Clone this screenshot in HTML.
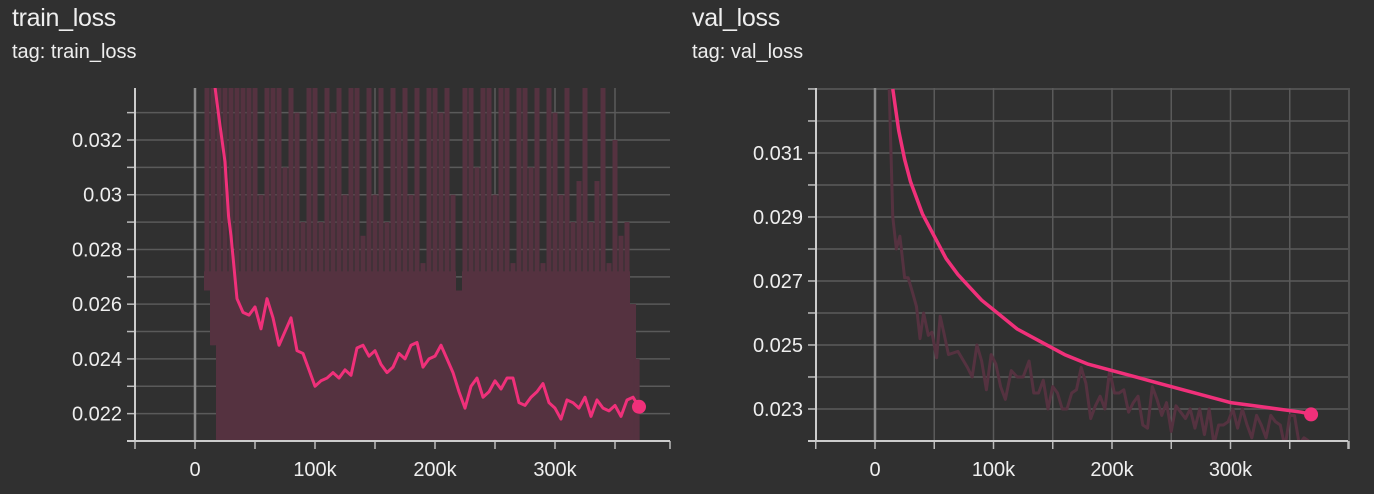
<!DOCTYPE html>
<html><head><meta charset="utf-8"><style>
html,body{margin:0;padding:0;background:#303030;width:1374px;height:494px;overflow:hidden;font-family:"Liberation Sans",sans-serif;color:#eee}
.t{position:absolute;font-size:25px;letter-spacing:-0.3px}
.g{position:absolute;font-size:20px}
svg{position:absolute;left:0;top:0}
</style></head><body>
<div class="t" style="left:12px;top:4px">train_loss</div>
<div class="g" style="left:12px;top:41px">tag: train_loss</div>
<div class="t" style="left:692px;top:4px">val_loss</div>
<div class="g" style="left:692px;top:41px">tag: val_loss</div>
<svg id="s" width="1374" height="494"></svg>
<script>
const trainX=[15,20,25,28,30,35,40,45,50,55,60,65,70,75,80,85,90,95,100,105,110,115,120,125,130,135,140,145,150,155,160,165,170,175,180,185,190,195,200,205,210,215,220,225,230,235,240,245,250,255,260,265,270,275,280,285,290,295,300,305,310,315,320,325,330,335,340,345,350,355,360,365,370];
const trainY=[0.0345,0.0328,0.0312,0.0292,0.0285,0.0262,0.0257,0.0256,0.0259,0.0251,0.0262,0.0255,0.0245,0.0250,0.0255,0.0243,0.0242,0.0236,0.0230,0.0232,0.0233,0.0235,0.0233,0.0236,0.0234,0.0244,0.0245,0.0241,0.0243,0.0238,0.0235,0.0237,0.0242,0.0240,0.0245,0.0246,0.0237,0.0240,0.0241,0.0245,0.0240,0.0235,0.0228,0.0222,0.0230,0.0233,0.0226,0.0228,0.0232,0.0229,0.0233,0.0233,0.0224,0.0223,0.0226,0.0228,0.0231,0.0224,0.0222,0.0218,0.0225,0.0224,0.0222,0.0226,0.0219,0.0225,0.0222,0.0221,0.0223,0.0219,0.0225,0.0226,0.02225];
const rawX=[10,15,20,25,30,35,40,45,50,55,60,65,70,75,80,85,90,95,100,105,110,115,120,125,130,135,140,145,150,155,160,165,170,175,180,185,190,195,200,205,210,215,220,225,230,235,240,245,250,255,260,265,270,275,280,285,290,295,300,305,310,315,320,325,330,335,340,345,350,355,360,365,368];
const rawHi=[0.034,0.034,0.034,0.034,0.034,0.034,0.034,0.034,0.034,0.030,0.034,0.034,0.034,0.031,0.034,0.033,0.029,0.034,0.034,0.029,0.034,0.033,0.034,0.030,0.034,0.034,0.0285,0.034,0.030,0.034,0.029,0.034,0.033,0.034,0.030,0.034,0.0275,0.034,0.034,0.033,0.034,0.030,0.0265,0.034,0.034,0.031,0.034,0.034,0.030,0.034,0.034,0.0275,0.034,0.034,0.031,0.034,0.0275,0.034,0.033,0.030,0.034,0.029,0.0305,0.034,0.029,0.0305,0.034,0.0275,0.032,0.0285,0.029,0.026,0.024];
const rawLo=[0.0265,0.0245,0.020,0.020,0.020,0.020,0.020,0.020,0.020,0.020,0.020,0.020,0.020,0.020,0.020,0.020,0.020,0.020,0.020,0.020,0.020,0.020,0.020,0.020,0.020,0.020,0.020,0.020,0.020,0.020,0.020,0.020,0.020,0.020,0.020,0.020,0.020,0.020,0.020,0.020,0.020,0.020,0.020,0.020,0.020,0.020,0.020,0.020,0.020,0.020,0.020,0.020,0.020,0.020,0.020,0.020,0.020,0.020,0.020,0.020,0.020,0.020,0.020,0.020,0.020,0.020,0.020,0.020,0.020,0.020,0.020,0.020,0.020];
const trainYTicks=["0.022","0.024","0.026","0.028","0.03","0.032"];
const valX=[15,20,25,30,40,50,60,70,80,90,100,120,140,160,180,200,220,240,260,280,300,320,340,360,368];
const valY=[0.0330,0.0317,0.0308,0.0301,0.0291,0.0284,0.0277,0.0272,0.0268,0.0264,0.0261,0.0255,0.0251,0.0247,0.0244,0.0242,0.0240,0.0238,0.0236,0.0234,0.0232,0.0231,0.0230,0.0229,0.02283];
const valRawX=[12,15,18,21,25,28,32,35,38,41,45,48,52,55,58,62,70,78,82,86,90,94,98,102,106,110,115,120,125,130,134,138,142,146,150,154,158,162,166,170,174,178,182,186,190,194,198,202,206,210,214,218,222,226,230,234,238,242,246,250,254,258,262,266,270,274,278,282,286,290,294,298,302,306,310,314,318,322,326,330,334,338,342,346,350,354,358,362,366];
const valRawY=[0.033,0.029,0.028,0.0284,0.0271,0.0271,0.0266,0.0262,0.0252,0.0260,0.0253,0.0254,0.0246,0.0259,0.0254,0.0247,0.0248,0.0243,0.0240,0.0250,0.0245,0.0236,0.0247,0.0244,0.0237,0.0233,0.0242,0.0240,0.0240,0.0245,0.0235,0.0235,0.0239,0.0230,0.0237,0.0235,0.0230,0.0230,0.0235,0.0236,0.0243,0.0238,0.0227,0.0231,0.0234,0.0230,0.0242,0.0235,0.0235,0.0236,0.0229,0.0232,0.0234,0.0225,0.0224,0.0237,0.0233,0.0228,0.0232,0.0223,0.0231,0.0229,0.0227,0.0230,0.0224,0.0230,0.0222,0.0230,0.0219,0.0225,0.0225,0.0226,0.0230,0.0224,0.0230,0.0225,0.0221,0.0228,0.0225,0.0221,0.0228,0.0226,0.0225,0.0218,0.0228,0.0228,0.0219,0.0221,0.0220];
const valYTicks=["0.023","0.025","0.027","0.029","0.031"];
const xTicks=["0","100k","200k","300k"];

const svg=document.getElementById('s');
const NS='http://www.w3.org/2000/svg';
function mk(tag,attrs,parent){const e=document.createElementNS(NS,tag);for(const k in attrs)e.setAttribute(k,attrs[k]);(parent||svg).appendChild(e);return e;}

function chart(id,L,R,T,B,x0,pxPer100k,yMin,yMax,minorStep,yTicks){
  const X=v=>x0+v/100*pxPer100k;
  const Y=v=>B-(v-yMin)/(yMax-yMin)*(B-T);
  const g=mk('g',{});
  
  
  mk('clipPath',{id:id+'clip'},g);
  mk('rect',{x:L,y:T,width:R-L,height:B-T},g.lastChild);
  for(let v=yMin;v<=yMax+1e-9;v+=minorStep){
    const y=Y(v);
    const gl=mk('line',{x1:L,x2:R,y1:y,y2:y,stroke:'#5a5a5a','stroke-width':1.5},g);
    
    
    mk('line',{x1:L-8,x2:L,y1:y,y2:y,stroke:'#bbb','stroke-width':1.5},g);
  }
  for(let k=-50;X(k)<=R+1;k+=50){
    const x=X(k);
    const vl=mk('line',{x1:x,x2:x,y1:T,y2:B,stroke:k===0?'#8a8a8a':'#5a5a5a','stroke-width':k===0?2.5:1.5},g);
    
    
    mk('line',{x1:x,x2:x,y1:B,y2:B+8,stroke:'#bbb','stroke-width':1.5},g);
  }
  mk('line',{x1:R,x2:R,y1:B,y2:B+8,stroke:'#bbb','stroke-width':1.5},g);
  yTicks.forEach(t=>{
    const tx=mk('text',{x:L-13,y:Y(parseFloat(t))+7,'text-anchor':'end',fill:'#eee','font-size':20,'font-family':'Liberation Sans, sans-serif'},g);
    
    
    tx.textContent=t;
  });
  xTicks.forEach((t,i)=>{
    const tx=mk('text',{x:X(i*100),y:476,'text-anchor':'middle',fill:'#eee','font-size':20,'font-family':'Liberation Sans, sans-serif'},g);
    
    
    tx.textContent=t;
  });
  const plot=mk('g',{'clip-path':'url(#'+id+'clip)'},g);
  
  
  return {X,Y,g,plot,L,R,T,B};
}
function line(c,xs,ys,stroke,w,name){
  const p=mk('polyline',{points:xs.map((x,i)=>c.X(x)+','+c.Y(ys[i])).join(' '),fill:'none',stroke:stroke,'stroke-width':w,'stroke-linejoin':'round'},c.plot);
  
  
  return p;
}
const c1=chart('train',135,670,88,441,195,120,0.021,0.0339,0.001,trainYTicks);
rawX.forEach((x,i)=>{
  const w=c1.X(5)-c1.X(0);
  const cap=Math.min(rawHi[i],0.0272);
  const r=mk('rect',{x:c1.X(x)-w/2,y:c1.Y(cap),width:w,height:Math.max(0,c1.Y(rawLo[i])-c1.Y(cap)),fill:'#553240'},c1.plot);
  
  
  const s=mk('rect',{x:c1.X(x)-2.5,y:c1.Y(rawHi[i]),width:5,height:c1.Y(rawLo[i])-c1.Y(rawHi[i]),fill:'#553240'},c1.plot);
  
  
});
line(c1,trainX,trainY,'#f0307a',3,'train-smoothed-line');
const d1=mk('circle',{cx:c1.X(trainX[trainX.length-1]),cy:c1.Y(trainY[trainY.length-1]),r:7,fill:'#f0307a'},c1.g);


mk('line',{x1:135,x2:135,y1:88,y2:441,stroke:'#ccc','stroke-width':2},c1.g);
mk('line',{x1:127,x2:670,y1:441,y2:441,stroke:'#ccc','stroke-width':2},c1.g);
const c2=chart('val',816,1348,88,441,875,118.5,0.022,0.03303,0.001,valYTicks);
line(c2,valRawX,valRawY,'#553240',3,'val-raw-line');
line(c2,valX,valY,'#f0307a',3.5,'val-smoothed-line');
const d2=mk('circle',{cx:c2.X(valX[valX.length-1]),cy:c2.Y(valY[valY.length-1]),r:7,fill:'#f0307a'},c2.g);


mk('line',{x1:816,x2:816,y1:88,y2:441,stroke:'#ccc','stroke-width':2},c2.g);
mk('line',{x1:808,x2:1348,y1:441,y2:441,stroke:'#ccc','stroke-width':2},c2.g);
</script>
</body></html>
